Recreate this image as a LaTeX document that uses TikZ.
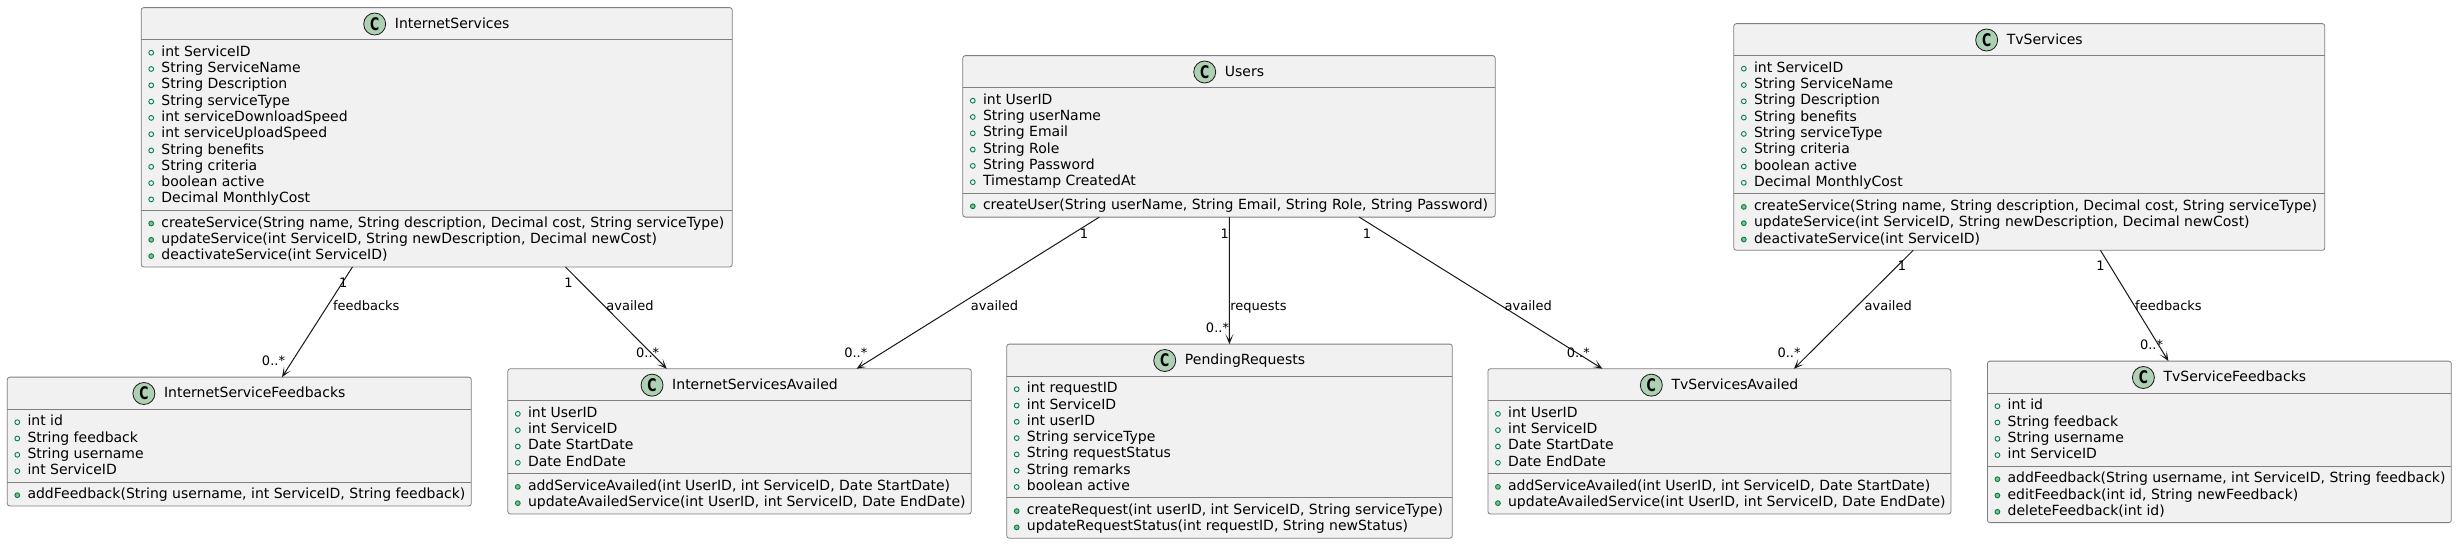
\documentclass[tikz,border=0pt]{standalone}
\usepackage{fontspec}
\setmainfont{DejaVu Sans}
\usetikzlibrary{arrows.meta,calc}
\definecolor{boxfill}{HTML}{F1F1F1}
\definecolor{boxline}{HTML}{181818}
\definecolor{boxedge}{HTML}{7F7F7F}
\definecolor{cfill}{HTML}{ADD1B2}
\definecolor{fieldc}{HTML}{038048}
\definecolor{methfill}{HTML}{84BE84}
\tikzset{
  classbox/.style={rectangle, draw=boxedge, line width=0.8pt, fill=boxfill, rounded corners=2.5pt, inner sep=0pt, outer sep=0pt},
  sepline/.style={draw=boxedge, line width=0.8pt},
  titletext/.style={inner sep=0pt, anchor=base, font=\fontsize{14}{16.3}\selectfont},
  cicon/.style={circle, draw=boxline, line width=0.8pt, fill=cfill, minimum size=22pt, inner sep=0pt, font=\fontsize{17.4}{17.4}\selectfont\bfseries},
  rowtext/.style={inner sep=0pt, anchor=base west, font=\fontsize{14}{16.3}\selectfont},
  fieldicon/.style={draw=fieldc, line width=0.9pt},
  methicon/.style={draw=fieldc, fill=methfill, line width=0.9pt},
  assoc/.style={draw=boxline, line width=1pt, -{Stealth[length=10pt,width=8pt,inset=6pt]}},
  multlabel/.style={inner sep=0pt, anchor=base, font=\fontsize{13}{15}\selectfont},
  linklabel/.style={inner sep=0pt, anchor=base west, font=\fontsize{13}{15}\selectfont},
}
% #1 name, #2 x, #3 y top, #4 width, #5 title, #6 n attrs, #7 attrs, #8 n methods, #9 methods
\newcommand\umlclass[9]{%
  \pgfmathsetmacro\hA{#6*16.3+7.8}%
  \pgfmathsetmacro\hM{#8*16.3+7.8}%
  \pgfmathsetmacro\hT{31.8+\hA+\hM}%
  \node[classbox, minimum width=#4pt, minimum height=\hT pt, anchor=north west] (#1) at (#2,#3) {};
  \draw[sepline] (#2,#3+31.8) -- (#2+#4,#3+31.8);
  \draw[sepline] (#2,#3+31.8+\hA) -- (#2+#4,#3+31.8+\hA);
  \node[titletext] (#1-t) at (#2+#4/2+15.5,#3+20.8) {#5};
  \node[cicon] (#1-c) at ([xshift=-20pt,yshift=4.4pt]#1-t.base west) {\scalebox{0.72}[1]{C}};
  \foreach \rowtxt [count=\k from 0] in {#7} {
    \draw[fieldicon] (#2+10,#3+31.8+16.8+16.3*\k-3.5) circle[radius=2.4pt];
    \node[rowtext] (#1-a\k) at (#2+20,#3+31.8+16.8+16.3*\k) {\rowtxt};
  }
  \foreach \rowtxt [count=\k from 0] in {#9} {
    \draw[methicon] (#2+10,#3+31.8+\hA+16.8+16.3*\k-3.5) circle[radius=2.4pt];
    \node[rowtext] (#1-m\k) at (#2+20,#3+31.8+\hA+16.8+16.3*\k) {\rowtxt};
  }
}
\begin{document}
\begin{tikzpicture}[x=1pt,y=-1pt]
\useasboundingbox (0,0) rectangle (2457,544);
\fill[white] (0,0) rectangle (2457,544);

\umlclass{IS}{141.2}{7.6}{591}{InternetServices}{10}%
  {{int ServiceID},{String ServiceName},{String Description},{String serviceType},{int serviceDownloadSpeed},{int serviceUploadSpeed},{String benefits},{String criteria},{boolean active},{Decimal MonthlyCost}}%
  {3}{{createService(String name, String description, Decimal cost, String serviceType)},{updateService(int ServiceID, String newDescription, Decimal newCost)},{deactivateService(int ServiceID)}}

\umlclass{US}{962.8}{55.6}{532.4}{Users}{6}%
  {{int UserID},{String userName},{String Email},{String Role},{String Password},{Timestamp CreatedAt}}%
  {1}{{createUser(String userName, String Email, String Role, String Password)}}

\umlclass{TVS}{1733.8}{23.6}{591}{TvServices}{8}%
  {{int ServiceID},{String ServiceName},{String Description},{String benefits},{String serviceType},{String criteria},{boolean active},{Decimal MonthlyCost}}%
  {3}{{createService(String name, String description, Decimal cost, String serviceType)},{updateService(int ServiceID, String newDescription, Decimal newCost)},{deactivateService(int ServiceID)}}

\umlclass{ISF}{7.3}{377.1}{463.9}{InternetServiceFeedbacks}{4}%
  {{int id},{String feedback},{String username},{int ServiceID}}%
  {1}{{addFeedback(String username, int ServiceID, String feedback)}}

\umlclass{ISA}{507.8}{368.75}{463.4}{InternetServicesAvailed}{4}%
  {{int UserID},{int ServiceID},{Date StartDate},{Date EndDate}}%
  {2}{{addServiceAvailed(int UserID, int ServiceID, Date StartDate)},{updateAvailedService(int UserID, int ServiceID, Date EndDate)}}

\umlclass{PR}{1006.7}{344.1}{445.6}{PendingRequests}{7}%
  {{int requestID},{int ServiceID},{int userID},{String serviceType},{String requestStatus},{String remarks},{boolean active}}%
  {2}{{createRequest(int userID, int ServiceID, String serviceType)},{updateRequestStatus(int requestID, String newStatus)}}

\umlclass{TSA}{1487.9}{368.75}{463}{TvServicesAvailed}{4}%
  {{int UserID},{int ServiceID},{Date StartDate},{Date EndDate}}%
  {2}{{addServiceAvailed(int UserID, int ServiceID, Date StartDate)},{updateAvailedService(int UserID, int ServiceID, Date EndDate)}}

\umlclass{TSF}{1987.4}{361.1}{463.9}{TvServiceFeedbacks}{4}%
  {{int id},{String feedback},{String username},{int ServiceID}}%
  {3}{{addFeedback(String username, int ServiceID, String feedback)},{editFeedback(int id, String newFeedback)},{deleteFeedback(int id)}}

% connectors
\draw[assoc] ([xshift=211.3pt]IS.south west) -- ([xshift=274.7pt]ISF.north west);
\draw[assoc] ([xshift=424.2pt]IS.south west) -- ([xshift=159pt]ISA.north west);
\draw[assoc] ([xshift=136.5pt]US.south west) -- ([xshift=348.8pt]ISA.north west);
\draw[assoc] ([xshift=266.6pt]US.south west) -- ([xshift=222.7pt]PR.north west);
\draw[assoc] ([xshift=396.4pt]US.south west) -- ([xshift=114.5pt]TSA.north west);
\draw[assoc] ([xshift=179.4pt]TVS.south west) -- ([xshift=306pt]TSA.north west);
\draw[assoc] ([xshift=366.6pt]TVS.south west) -- ([xshift=181pt]TSF.north west);

% multiplicities
\node[multlabel] (m1s) at (343.3,287.3) {1};
\node[multlabel] (m1t) at (273.5,365) {0..*};
\node[multlabel] (m2s) at (568.5,287.3) {1};
\node[multlabel] (m2t) at (647.7,357.3) {0..*};
\node[multlabel] (m3s) at (1084,238) {1};
\node[multlabel] (m3t) at (855.8,357.3) {0..*};
\node[multlabel] (m4s) at (1224.7,238) {1};
\node[multlabel] (m4t) at (1217.5,332.6) {0..*};
\node[multlabel] (m5s) at (1367,238) {1};
\node[multlabel] (m5t) at (1578.3,357.3) {0..*};
\node[multlabel] (m6s) at (1902,270.9) {1};
\node[multlabel] (m6t) at (1789,357.3) {0..*};
\node[multlabel] (m7s) at (2100.6,270.9) {1};
\node[multlabel] (m7t) at (2151.5,349.6) {0..*};

% link labels
\node[linklabel] (l1) at (332.8,310.5) {feedbacks};
\node[linklabel] (l2) at (606.2,310.5) {availed};
\node[linklabel] (l3) at (970.7,310.5) {availed};
\node[linklabel] (l4) at (1230.2,310.5) {requests};
\node[linklabel] (l5) at (1504.5,310.5) {availed};
\node[linklabel] (l6) at (1864.5,310.5) {availed};
\node[linklabel] (l7) at (2135,310.5) {feedbacks};
\end{tikzpicture}
\end{document}
